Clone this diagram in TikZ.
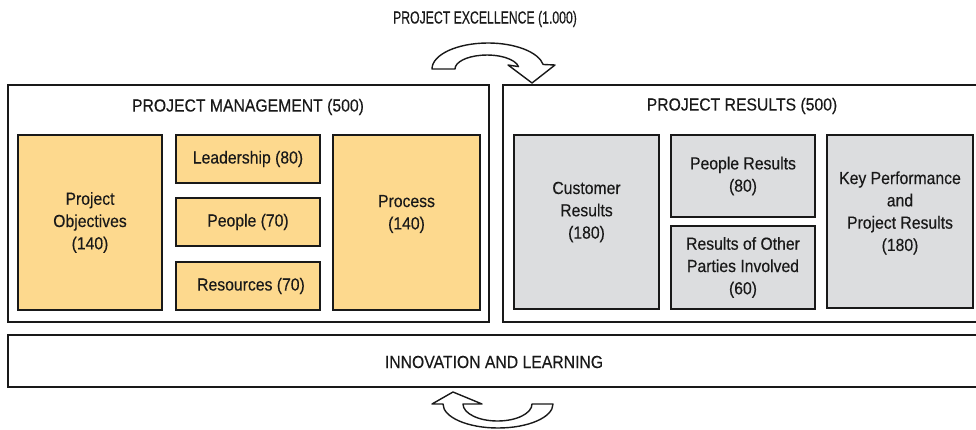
\documentclass[tikz,border=0pt]{standalone}
\usepackage{fontspec}
\setmainfont{Liberation Sans}[FakeStretch=0.9,FakeBold=0.3]
\newfontfamily\narrowtitle{Liberation Sans}[FakeStretch=0.7,FakeBold=0.3]
\definecolor{boxorange}{RGB}{253,217,142}
\definecolor{boxgray}{RGB}{220,221,223}
\definecolor{lineblk}{RGB}{25,25,25}
\begin{document}
\begin{tikzpicture}[x=1pt,y=1pt,
  every node/.style={font=\fontsize{17.5}{22.3}\selectfont, text=lineblk},
  outerbox/.style={draw=lineblk, line width=1.5pt, fill=white, minimum width=#1, minimum height=237pt, inner sep=0pt},
  obox/.style={draw=lineblk, line width=1.4pt, fill=boxorange, inner sep=0pt, align=center},
  gbox/.style={draw=lineblk, line width=1.4pt, fill=boxgray, inner sep=0pt, align=center},
  txt/.style={align=center, inner sep=0pt},
  bigarrow/.style={draw=lineblk, line width=1.4pt, fill=white, line join=round}]
\useasboundingbox (0,0) rectangle (976,429);
\clip (0,0) rectangle (976,429);
% outer boxes
\node[outerbox=481pt] (pm) at (248.5,225.5) {};
\node[outerbox=482pt] (pr) at (744,225.5) {};
\node[draw=lineblk, line width=1.5pt, minimum width=977pt, minimum height=52pt, inner sep=0pt] (inno) at (496.5,68) {};
\node[txt] (innot) at (494,67) {INNOVATION AND LEARNING};
% titles
\node[txt] (title) at (485,410) {\narrowtitle PROJECT EXCELLENCE (1.000)};
\node[txt] (pmt) at (248,322) {PROJECT MANAGEMENT (500)};
\node[txt] (prt) at (742,323) {PROJECT RESULTS (500)};
% project management
\node[obox, minimum width=144pt, minimum height=175pt] (po) at (90,206.5) {Project\\Objectives\\(140)};
\node[obox, minimum width=144pt, minimum height=48pt] (lead) at (248,270) {Leadership (80)};
\node[obox, minimum width=144pt, minimum height=48pt] (peo) at (248,207) {People (70)};
\node[obox, minimum width=144pt, minimum height=48pt] (res) at (248,143) {\hspace*{6pt}Resources (70)};
\node[obox, minimum width=147pt, minimum height=175pt] (proc) at (406.5,206.5) {};
\node[txt] (proct) at (406.5,215) {Process\\(140)};
% project results
\node[gbox, minimum width=145pt, minimum height=174pt] (cr) at (586.5,207) {};
\node[txt] (crt) at (586.5,217) {Customer\\Results\\(180)};
\node[gbox, minimum width=144pt, minimum height=82pt] (pres) at (743,253) {People Results\\(80)};
\node[gbox, minimum width=144pt, minimum height=83pt] (oth) at (743,161.5) {Results of Other\\Parties Involved\\(60)};
\node[gbox, minimum width=146pt, minimum height=173pt] (kp) at (900,207.5) {};
\node[txt] (kpt) at (900,216) {Key Performance\\and\\Project Results\\(180)};
% top curved arrow
\draw[bigarrow] (432,360) arc[start angle=180, end angle=10, x radius=56, y radius=26]
  -- (555,364) -- (532,346) -- (508,364) -- (518.5,362.4)
  arc[start angle=10, end angle=180, x radius=32, y radius=14] -- cycle;
% bottom curved arrow
\draw[bigarrow] (553,25) arc[start angle=0, end angle=-180, x radius=55, y radius=24]
  -- (432,25) -- (453,37) -- (482,25) -- (463,25)
  arc[start angle=-180, end angle=0, x radius=34.5, y radius=17] -- cycle;
\end{tikzpicture}
\end{document}
